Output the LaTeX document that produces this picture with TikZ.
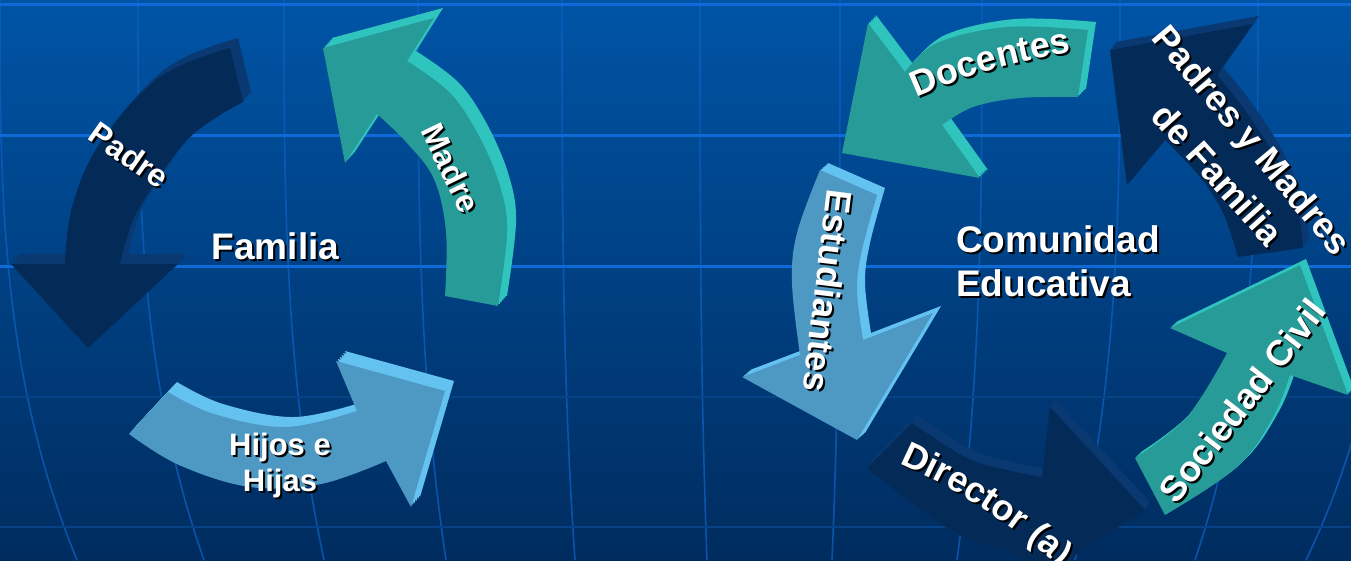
\documentclass[tikz,border=0pt]{standalone}
\usepackage{fontspec}
\setmainfont{Liberation Sans}
\usetikzlibrary{decorations.text}
\definecolor{bgtop}{RGB}{0,84,166}
\definecolor{bgbot}{RGB}{0,44,95}
\definecolor{gridhi}{RGB}{14,106,214}
\definecolor{gridlo}{RGB}{8,66,134}
\definecolor{gridv}{RGB}{12,94,188}
\definecolor{navyface}{RGB}{4,42,88}
\definecolor{navyside}{RGB}{10,56,112}
\definecolor{tealface}{RGB}{39,155,151}
\definecolor{tealside}{RGB}{48,196,190}
\definecolor{skyface}{RGB}{78,153,196}
\definecolor{skyside}{RGB}{100,194,240}

\tikzset{
  lbl/.style={text=white, inner sep=0pt, font=\bfseries\fontsize{#1}{#1}\selectfont},
  gridline/.style={gridv, line width=1.6pt, opacity=0.8},
}

% arrow outlines (image pixel coordinates)
\newcommand\padrep{(230,48) -- plot[smooth,tension=0.6] coordinates {(230,48) (160,77) (100,143) (72,207) (65,264)} -- (11,264) -- (88,348) -- (178,264) -- (120,264) -- plot[smooth,tension=0.6] coordinates {(120,264) (133,220) (157,180) (187,140) (217,117) (243,102)} -- cycle}
\newcommand\madrep{(323,48) -- (434,18) -- (407,61) -- plot[smooth,tension=0.6] coordinates {(407,61) (450,93) (479,136) (500,186) (507,232) (498,306)} -- (445,296) -- plot[smooth,tension=0.6] coordinates {(445,296) (446,232) (434,179) (407,143) (377,114)} -- (345,163) -- cycle}
\newcommand\hijosp{(168,392) -- plot[smooth,tension=0.6] coordinates {(168,392) (214,414) (286,427) (357,411)} -- (336,361) -- (445,391) -- (411,507) -- (386,461) -- plot[smooth,tension=0.6] coordinates {(386,461) (321,484) (250,487) (179,465) (129,434)} -- cycle}
\newcommand\docp{(1088,30) -- plot[smooth,tension=0.6] coordinates {(1088,30) (1007,27) (937,43) (905,72)} -- (868,23) -- (842,153) -- (980,178) -- (942,125) -- plot[smooth,tension=0.6] coordinates {(942,125) (973,107) (1020,98) (1078,97)} -- cycle}
\newcommand\padresp{(1110,50) -- (1253,24) -- (1217,75) -- plot[smooth,tension=0.6] coordinates {(1217,75) (1247,113) (1277,160) (1297,207) (1303,248)} -- (1238,257) -- plot[smooth,tension=0.6] coordinates {(1238,257) (1223,213) (1200,177) (1165,140)} -- (1127,185) -- cycle}
\newcommand\estp{(820,170) -- plot[smooth,tension=0.6] coordinates {(820,170) (797,233) (792,283) (800,355)} -- (742,377) -- (857,440) -- (933,313) -- (863,340) -- plot[smooth,tension=0.6] coordinates {(863,340) (857,290) (862,250) (877,195)} -- cycle}
\newcommand\dirp{(912,423) -- plot[smooth,tension=0.6] coordinates {(912,423) (967,458) (1007,470) (1042,477)} -- (1050,407) -- (1145,510) -- (1030,585) -- (1032,565) -- plot[smooth,tension=0.6] coordinates {(1032,565) (1010,553) (950,530) (867,468)} -- cycle}
\newcommand\socp{(1135,458) -- plot[smooth,tension=0.6] coordinates {(1135,458) (1187,417) (1227,353)} -- (1170,328) -- (1300,265) -- (1348,395) -- (1290,375) -- plot[smooth,tension=0.6] coordinates {(1290,375) (1273,417) (1237,467) (1165,515)} -- cycle}

\newcommand\solidarrow[5]{%
  \foreach \t in {1,0.8,0.6,0.4,0.2}{\fill[#3,shift={({\t*#4},{\t*#5})}] #1;}
  \fill[#2] #1;}

\newcommand\shadowtext[4]{%
  \begin{scope}[xshift=2pt,yshift=-2pt]\node[#2,text=black] at #3 {#4};\end{scope}
  \node[#2] (#1) at #3 {#4};}

\newcommand\shadowarctext[7]{%
  \begin{scope}[xshift=2pt,yshift=-2pt]
  \path[decorate,decoration={text along path,text align=center,
     text={|\fontsize{#6}{#6}\selectfont\bfseries\color{black}|#7}}]
     plot[domain=#4:#5,samples=60] ({#1+#3*cos(\x)},{#2+#3*sin(\x)});
  \end{scope}
  \path[decorate,decoration={text along path,text align=center,
     text={|\fontsize{#6}{#6}\selectfont\bfseries\color{white}|#7}}]
     plot[domain=#4:#5,samples=60] ({#1+#3*cos(\x)},{#2+#3*sin(\x)});}

\begin{document}
\begin{tikzpicture}[x=1pt,y=-1pt]
\useasboundingbox (0,0) rectangle (1351,560);
\clip (0,0) rectangle (1351,560);
\shade[top color=bgtop,bottom color=bgbot] (0,0) rectangle (1351,560);

% grid
\foreach \gx/\gd in {0/77,138/66,284/40,418/28,562/13,700/7,840/-8,982/-25,1120/-45,1258/-63,1396/-90}
  \draw[gridline] (\gx,0) .. controls (\gx,187) and (\gx,373) .. ({\gx+\gd},560);
\draw[gridhi, line width=3pt] (0,4) -- (1351,4);
\draw[gridhi, line width=3pt] (0,135) -- (1351,135);
\draw[gridhi, line width=3pt] (0,266) -- (1351,266);
\draw[gridlo, line width=2pt] (0,397) -- (1351,397);
\draw[gridlo, line width=2pt] (0,527) -- (1351,527);

% Familia cycle
\solidarrow{\padrep}{navyface}{navyside}{8}{-10}
\solidarrow{\madrep}{tealface}{tealside}{9}{-10}
\solidarrow{\hijosp}{skyface}{skyside}{9}{-10}

% Comunidad cycle
\solidarrow{\docp}{tealface}{tealside}{8}{-8}
\solidarrow{\padresp}{navyface}{navyside}{6}{-8}
\solidarrow{\estp}{skyface}{skyside}{8}{-7}
\solidarrow{\dirp}{navyface}{navyside}{5}{-8}
\solidarrow{\socp}{tealface}{tealside}{6}{-6}

% texts
\shadowtext{familia}{lbl=37,anchor=base}{(275.5,259)}{Familia}
\shadowtext{padre}{lbl=32,rotate=-35}{(129,155)}{Padre}
\shadowtext{madre}{lbl=32,rotate=-64}{(451,168)}{Madre}
\shadowtext{hijos1}{lbl=31,anchor=base}{(280,455)}{Hijos e}
\shadowtext{hijos2}{lbl=31,anchor=base}{(280,491)}{Hijas}

\shadowtext{com1}{lbl=37,anchor=base west}{(956,252)}{Comunidad}
\shadowtext{com2}{lbl=37,anchor=base west}{(956,296)}{Educativa}
\shadowtext{pm1}{lbl=36,rotate=-50}{(1250,142)}{Padres y Madres}
\shadowtext{pm2}{lbl=36,rotate=-48}{(1218,174)}{de Familia}
\shadowtext{est}{lbl=36,rotate=-97}{(828,291)}{Estudiantes}
\shadowtext{soc}{lbl=36,rotate=52}{(1242,401)}{Sociedad Civil}
\shadowarctext{1152}{626}{579}{-140}{-72}{36}{Docentes}
\shadowarctext{663}{1003}{589}{-90}{-24}{36}{Director (a)}
\end{tikzpicture}
\end{document}
